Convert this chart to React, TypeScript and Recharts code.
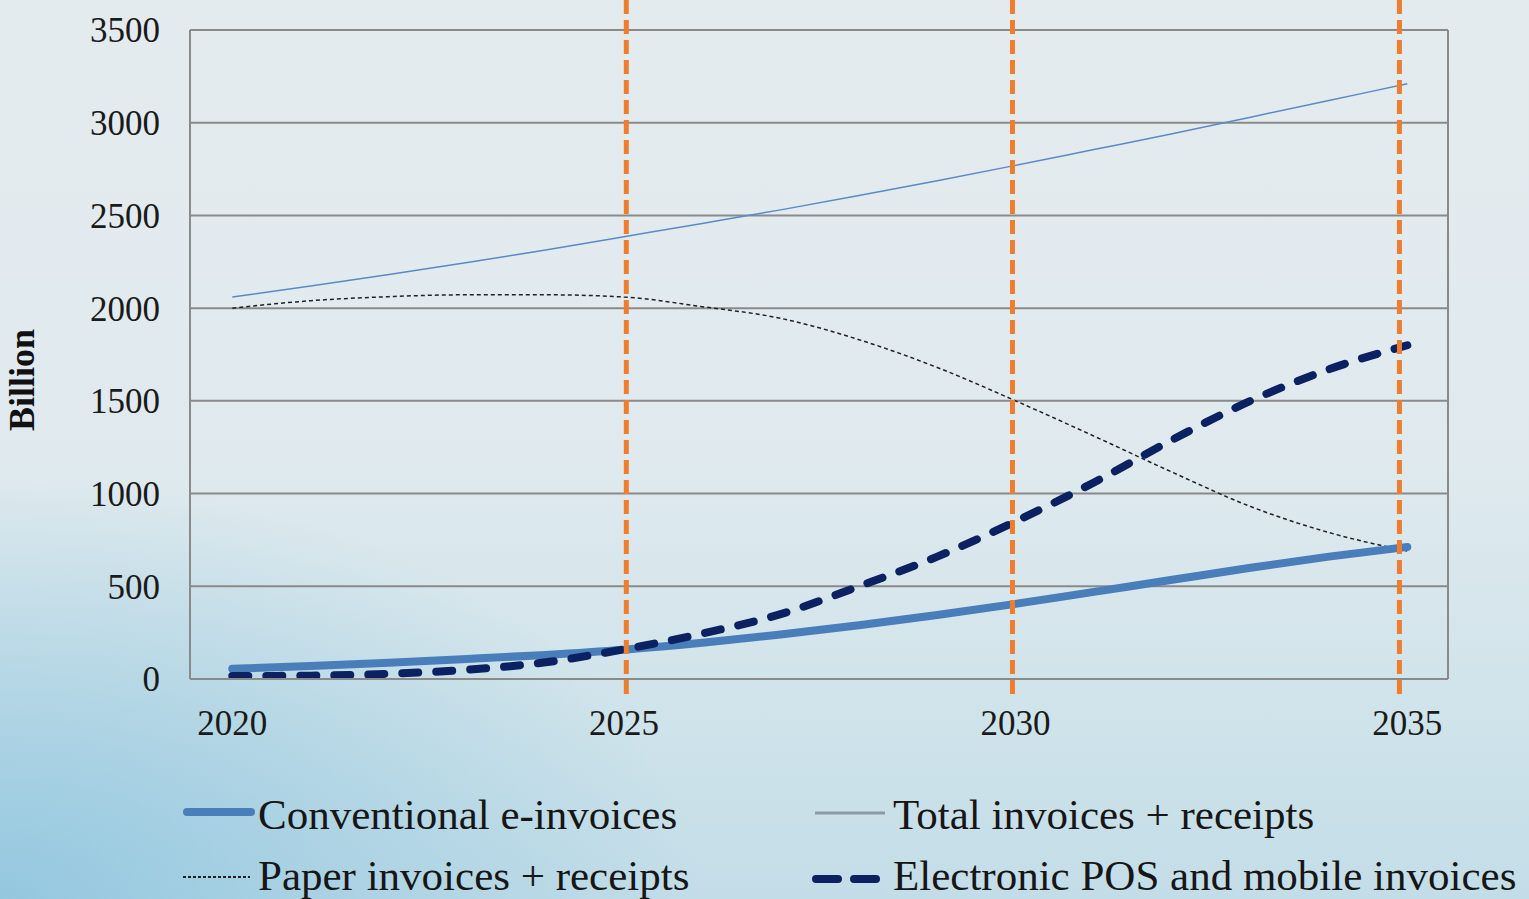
import { LineChart, Line, XAxis, YAxis, CartesianGrid, ReferenceLine } from "recharts";

const years = [2020, 2021, 2022, 2023, 2024, 2025, 2026, 2027, 2028, 2029, 2030, 2031, 2032, 2033, 2034, 2035];
const conventional = [55, 70, 88, 108, 130, 158, 195, 240, 290, 345, 405, 470, 535, 600, 660, 712];
const total = [2060, 2120, 2182, 2246, 2313, 2385, 2457, 2530, 2607, 2687, 2770, 2855, 2940, 3030, 3120, 3210];
const paper = [2000, 2040, 2062, 2072, 2072, 2060, 2008, 1945, 1830, 1680, 1500, 1310, 1115, 930, 790, 690];
const electronic = [16, 18, 28, 50, 90, 160, 245, 350, 500, 660, 850, 1060, 1290, 1500, 1670, 1800];

const xTicks = [2020, 2025, 2030, 2035];
const yTicks = [0, 500, 1000, 1500, 2000, 2500, 3000, 3500];
const markerYears = [2025.03, 2029.96, 2034.9];

const data = years.map((year, i) => ({
  year,
  conventional: conventional[i],
  total: total[i],
  paper: paper[i],
  electronic: electronic[i],
}));

const serif = "'Liberation Serif', 'Times New Roman', serif";
const gridColor = "#8a8a8a";
const orange = "#EE7E2E";

// orange markers reach past the plot frame, so draw the line ourselves
const MarkerLine = (p: any) => {
  const top = Math.min(p.y1, p.y2);
  const bottom = Math.max(p.y1, p.y2);
  return (
    <line
      x1={p.x1}
      x2={p.x2}
      y1={top - 30}
      y2={bottom + 19}
      stroke={orange}
      strokeWidth={5}
      strokeDasharray="14 6"
    />
  );
};

const BillionLabel = () => (
  <text
    x={22}
    y={380}
    transform="rotate(-90 22 380)"
    textAnchor="middle"
    dominantBaseline="central"
    fontFamily={serif}
    fontWeight="bold"
    fontSize={36}
    fill="#111"
  >
    Billion
  </text>
);

function Legend() {
  const text = { fontFamily: serif, fontSize: 43, fill: "#161616" };
  return (
    <svg width={1529} height={139} style={{ position: "absolute", left: 0, top: 760 }}>
      <line x1={187} x2={251} y1={52} y2={52} stroke="#4A7EBB" strokeWidth={8} strokeLinecap="round" />
      <text x={258} y={69} {...text}>Conventional e-invoices</text>
      <line x1={815} x2={885} y1={53} y2={53} stroke="#8d9aa6" strokeWidth={3} />
      <text x={893} y={69} {...text}>Total invoices + receipts</text>
      <line x1={183} x2={250} y1={117} y2={117} stroke="#222" strokeWidth={2} strokeDasharray="3 2" />
      <text x={258} y={130} {...text}>Paper invoices + receipts</text>
      <line x1={816} x2={878} y1={119} y2={119} stroke="#0B2161" strokeWidth={8} strokeLinecap="round" strokeDasharray="22 16" />
      <text x={893} y={130} {...text}>Electronic POS and mobile invoices</text>
    </svg>
  );
}

export default function App() {
  return (
    <div
      style={{
        position: "absolute",
        left: 0,
        top: 0,
        width: 1529,
        height: 899,
        overflow: "hidden",
        background:
          "radial-gradient(ellipse 700px 420px at 0% 100%, rgba(140,196,222,0.85), rgba(140,196,222,0) 100%), linear-gradient(180deg, #e4ebef 0%, #e0eaee 50%, #cfe3ea 80%, #c3dde8 100%)",
      }}
    >
      <LineChart width={1529} height={760} data={data} margin={{ top: 30, right: 81, bottom: 0, left: 0 }}>
        <CartesianGrid
          stroke={gridColor}
          strokeWidth={2}
          verticalCoordinatesGenerator={({ offset }: any) => [offset.left, offset.left + offset.width]}
        />
        <XAxis
          dataKey="year"
          type="number"
          domain={[2019.46, 2035.52]}
          ticks={xTicks}
          allowDataOverflow
          height={81}
          tickLine={false}
          tickSize={0}
          tickMargin={31}
          axisLine={{ stroke: gridColor, strokeWidth: 2 }}
          tick={{ fontFamily: serif, fontSize: 35, fill: "#1a1a1a" }}
        />
        <YAxis
          domain={[0, 3500]}
          ticks={yTicks}
          width={190}
          tickLine={false}
          tickSize={0}
          tickMargin={30}
          axisLine={{ stroke: gridColor, strokeWidth: 2 }}
          tick={{ fontFamily: serif, fontSize: 35, fill: "#1a1a1a" }}
          label={{ content: BillionLabel }}
        />
        <Line type="monotone" dataKey="total" stroke="#5a8ac6" strokeWidth={1.5} dot={false} isAnimationActive={false} />
        <Line type="monotone" dataKey="paper" stroke="#222" strokeWidth={1.5} strokeDasharray="4 3" dot={false} isAnimationActive={false} />
        <Line type="monotone" dataKey="conventional" stroke="#4A7EBB" strokeWidth={8} strokeLinecap="round" dot={false} isAnimationActive={false} />
        <Line type="monotone" dataKey="electronic" stroke="#0B2161" strokeWidth={8} strokeLinecap="round" strokeDasharray="16 18" dot={false} isAnimationActive={false} />
        {markerYears.map((x) => (
          <ReferenceLine key={x} x={x} ifOverflow="visible" shape={MarkerLine} />
        ))}
      </LineChart>
      <Legend />
    </div>
  );
}
